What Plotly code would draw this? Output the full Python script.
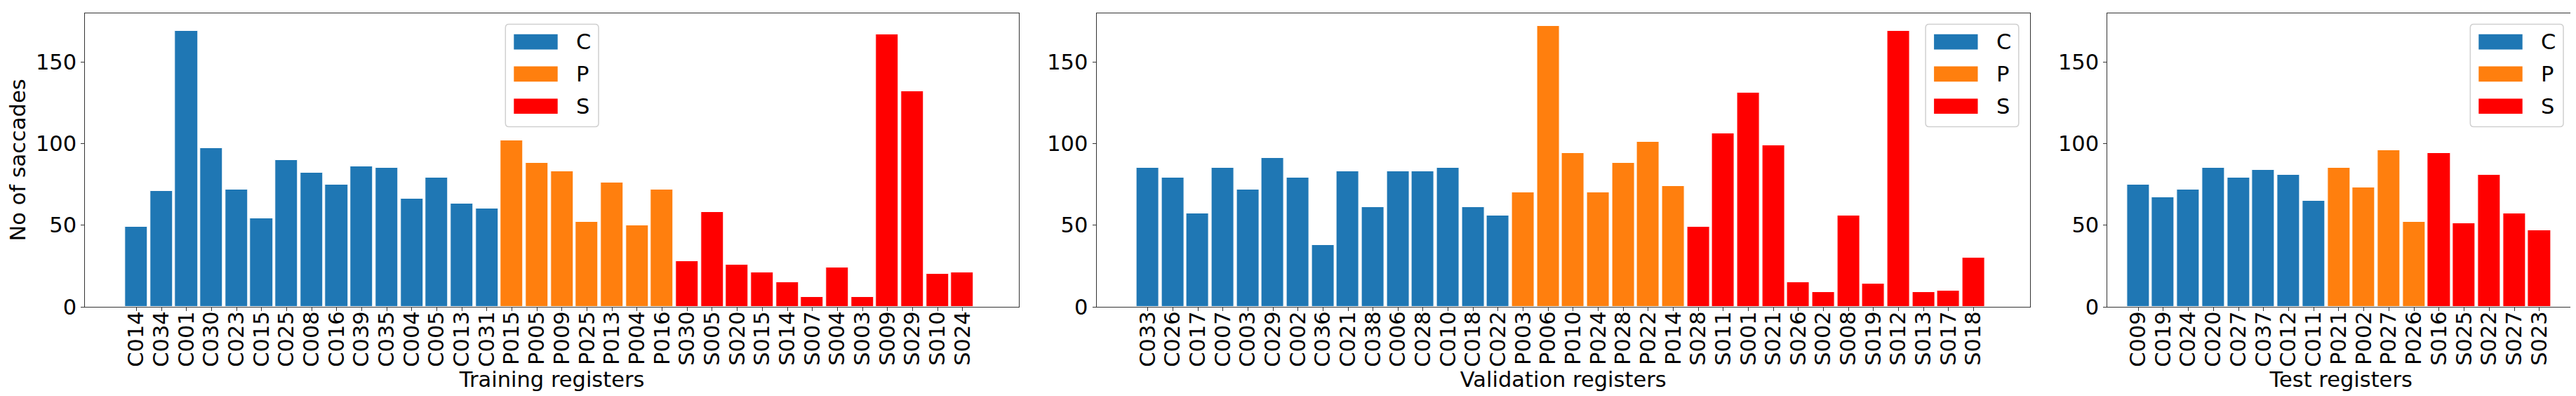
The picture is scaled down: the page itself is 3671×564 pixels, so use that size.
import plotly.graph_objects as go

# ---------------- data ----------------
train_C_names = ["C014", "C034", "C001", "C030", "C023", "C015", "C025", "C008",
                 "C016", "C039", "C035", "C004", "C005", "C013", "C031"]
train_C_vals = [49, 71, 169, 97, 72, 54, 90, 82, 75, 86, 85, 66, 79, 63, 60]
train_P_names = ["P015", "P005", "P009", "P025", "P013", "P004", "P016"]
train_P_vals = [102, 88, 83, 52, 76, 50, 72]
train_S_names = ["S030", "S005", "S020", "S015", "S014", "S007", "S004", "S003",
                 "S009", "S029", "S010", "S024"]
train_S_vals = [28, 58, 26, 21, 15, 6, 24, 6, 167, 132, 20, 21]

val_C_names = ["C033", "C026", "C017", "C007", "C003", "C029", "C002", "C036",
               "C021", "C038", "C006", "C028", "C010", "C018", "C022"]
val_C_vals = [85, 79, 57, 85, 72, 91, 79, 38, 83, 61, 83, 83, 85, 61, 56]
val_P_names = ["P003", "P006", "P010", "P024", "P028", "P022", "P014"]
val_P_vals = [70, 172, 94, 70, 88, 101, 74]
val_S_names = ["S028", "S011", "S001", "S021", "S026", "S002", "S008", "S019",
               "S012", "S013", "S017", "S018"]
val_S_vals = [49, 106, 131, 99, 15, 9, 56, 14, 169, 9, 10, 30]

test_C_names = ["C009", "C019", "C024", "C020", "C027", "C037", "C012", "C011"]
test_C_vals = [75, 67, 72, 85, 79, 84, 81, 65]
test_P_names = ["P021", "P002", "P027", "P026"]
test_P_vals = [85, 73, 96, 52]
test_S_names = ["S016", "S025", "S022", "S027", "S023"]
test_S_vals = [94, 51, 81, 57, 47]

group_names = ["C", "P", "S"]
group_colors = ["#1f77b4", "#ff7f0e", "#ff0000"]
y_ticks = [0, 50, 100, 150]
x_titles = ["Training registers", "Validation registers", "Test registers"]
y_title = "No of saccades"

panels = [
    [(train_C_names, train_C_vals), (train_P_names, train_P_vals), (train_S_names, train_S_vals)],
    [(val_C_names, val_C_vals), (val_P_names, val_P_vals), (val_S_names, val_S_vals)],
    [(test_C_names, test_C_vals), (test_P_names, test_P_vals), (test_S_names, test_S_vals)],
]

# ---------------- layout geometry ----------------
W, H = 3671, 564
ML, MR, MT, MB = 113, 10, 11, 135
PW, PH = W - ML - MR, H - MT - MB
ax_px = [(113.3, 1444.0), (1554.6, 2884.8), (2995.4, 3661.0)]
x_ranges = [[-2.05, 35.25], [-2.05, 35.25], [-1.22, 17.4]]
y_range = [0, 179.7]
FONT = "DejaVu Sans"
FS = 30.5

def px_x(px):
    return (px - ML) / PW

def px_y(py):
    return 1 - (py - MT) / PH

fig = go.Figure()

for i, groups in enumerate(panels):
    xa = "x" if i == 0 else f"x{i+1}"
    ya = "y" if i == 0 else f"y{i+1}"
    cats = []
    for (names, vals), gname, col in zip(groups, group_names, group_colors):
        cats += names
        fig.add_trace(go.Bar(
            x=names, y=vals, name=gname, width=0.9,
            marker=dict(color=col, line=dict(color="white", width=1)),
            xaxis=xa, yaxis=ya, showlegend=False,
        ))
    sfx = "" if i == 0 else str(i + 1)
    d0, d1 = px_x(ax_px[i][0]), px_x(ax_px[i][1])
    fig.layout["xaxis" + sfx] = dict(
        domain=[max(0, d0), min(1, d1)], anchor=ya, type="category",
        categoryorder="array", categoryarray=cats, range=x_ranges[i],
        tickmode="array", tickvals=cats, ticktext=cats,
        tickangle=-90, ticks="outside", ticklen=5, tickwidth=1, tickcolor="#333",
        ticklabelstandoff=-12,
        showline=True, linecolor="#333", linewidth=1.2, mirror=True,
        showgrid=False, zeroline=False, automargin=False,
        tickfont=dict(family=FONT, size=FS, color="black"),
        title=dict(text=x_titles[i], font=dict(family=FONT, size=FS, color="black"), standoff=2),
    )
    fig.layout["yaxis" + sfx] = dict(
        domain=[0, 1], anchor=xa, range=y_range, tickvals=y_ticks,
        ticks="outside", ticklen=5, tickwidth=1, tickcolor="#333",
        showline=True, linecolor="#333", linewidth=1.2, mirror=True,
        showgrid=False, zeroline=False, automargin=False,
        tickfont=dict(family=FONT, size=FS, color="black"),
        title=dict(text=y_title if i == 0 else "", font=dict(family=FONT, size=FS, color="black"), standoff=8),
    )

# ---------------- legends (drawn as matplotlib-style boxes) ----------------
LW, LH = 132.7, 146.0
legend_lefts = [(ax_px[0][0] + ax_px[0][1]) / 2 - LW / 2,
                ax_px[1][1] - 16 - LW,
                ax_px[2][1] - 16 - LW]
legend_top = MT + 15.6
shapes, annots = [], []
for lx in legend_lefts:
    x0, x1, y0, y1 = lx, lx + LW, legend_top, legend_top + LH
    r = 5
    path = (f"M{px_x(x0+r)},{px_y(y0)} L{px_x(x1-r)},{px_y(y0)} "
            f"Q{px_x(x1)},{px_y(y0)} {px_x(x1)},{px_y(y0+r)} "
            f"L{px_x(x1)},{px_y(y1-r)} Q{px_x(x1)},{px_y(y1)} {px_x(x1-r)},{px_y(y1)} "
            f"L{px_x(x0+r)},{px_y(y1)} Q{px_x(x0)},{px_y(y1)} {px_x(x0)},{px_y(y1-r)} "
            f"L{px_x(x0)},{px_y(y0+r)} Q{px_x(x0)},{px_y(y0)} {px_x(x0+r)},{px_y(y0)} Z")
    shapes.append(dict(type="path", path=path, xref="paper", yref="paper",
                       line=dict(color="#d0d0d0", width=1.5),
                       fillcolor="rgba(255,255,255,0.8)", layer="above"))
    for k, (gname, col) in enumerate(zip(group_names, group_colors)):
        cy = legend_top + 25 + k * 45.8
        shapes.append(dict(type="rect", xref="paper", yref="paper",
                           x0=px_x(lx + 12), x1=px_x(lx + 74.4),
                           y0=px_y(cy - 10.8), y1=px_y(cy + 10.8),
                           fillcolor=col, line=dict(width=0), layer="above"))
        annots.append(dict(text=gname, xref="paper", yref="paper",
                           x=px_x(lx + 99), y=px_y(cy), xanchor="left", yanchor="middle",
                           showarrow=False, font=dict(family=FONT, size=FS, color="black")))

fig.update_layout(
    width=W, height=H,
    margin=dict(l=ML, r=MR, t=MT, b=MB, pad=0),
    paper_bgcolor="white", plot_bgcolor="white",
    barmode="overlay", bargap=0,
    showlegend=False,
    shapes=shapes, annotations=annots,
    font=dict(family=FONT, size=FS, color="black"),
)

fig.write_html("out.html")
